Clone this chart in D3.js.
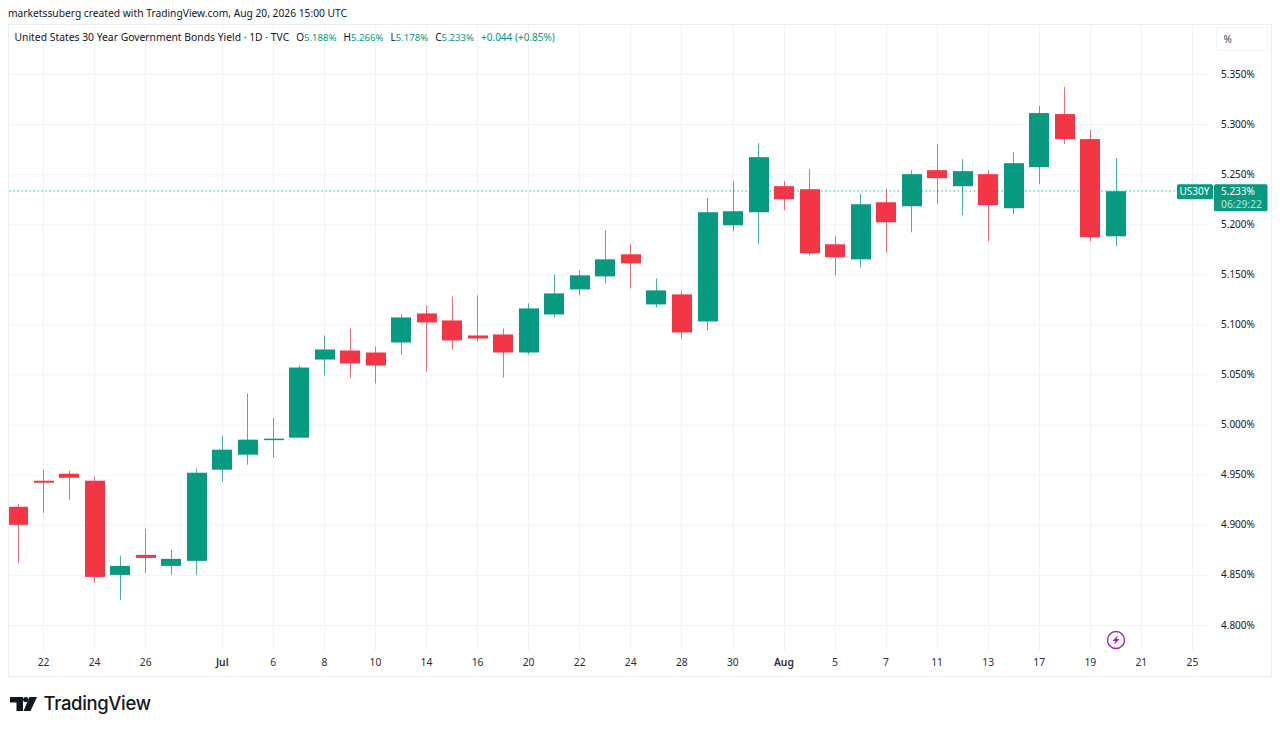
<!DOCTYPE html>
<html>
<head>
<meta charset="utf-8">
<script src="https://cdn.jsdelivr.net/npm/d3@7"></script>
<style>
html,body{margin:0;padding:0;background:#fff;overflow:hidden}
svg{display:block}
text{font-family:"Noto Sans",Roboto,sans-serif;fill:#131722}
.grid line{stroke:#f1f3f7;stroke-width:1}
.grid path{display:none}
.axis path{display:none}
.axis text{font-size:10px;fill:#2a2e39}
</style>
</head>
<body>
<svg id="chart" width="1280" height="730"></svg>
<script>
const sessions=["Jun 19","Jun 22","Jun 23","Jun 24","Jun 25","Jun 26","Jun 29","Jun 30","Jul 1","Jul 2",
  "Jul 6","Jul 7","Jul 8","Jul 9","Jul 10","Jul 13","Jul 14","Jul 15","Jul 16","Jul 17",
  "Jul 20","Jul 21","Jul 22","Jul 23","Jul 24","Jul 27","Jul 28","Jul 29","Jul 30","Jul 31",
  "Aug 3","Aug 4","Aug 5","Aug 6","Aug 7","Aug 10","Aug 11","Aug 12","Aug 13","Aug 14",
  "Aug 17","Aug 18","Aug 19","Aug 20"];
const futureSessions=["Aug 21","Aug 24","Aug 25"];
const opens=[4.918,4.944,4.951,4.944,4.850,4.870,4.859,4.864,4.955,4.970,
  4.985,4.987,5.065,5.074,5.072,5.082,5.111,5.104,5.089,5.090,
  5.072,5.110,5.135,5.148,5.170,5.120,5.130,5.103,5.199,5.212,
  5.238,5.235,5.180,5.165,5.222,5.218,5.254,5.238,5.250,5.216,
  5.257,5.310,5.285,5.188];
const highs=[4.921,4.955,4.954,4.948,4.869,4.896,4.875,4.956,4.989,5.031,
  5.007,5.059,5.089,5.096,5.078,5.110,5.119,5.128,5.129,5.096,
  5.121,5.150,5.154,5.194,5.180,5.146,5.133,5.226,5.243,5.281,
  5.243,5.255,5.188,5.230,5.235,5.254,5.280,5.265,5.254,5.272,
  5.318,5.337,5.294,5.266];
const lows=[4.862,4.912,4.925,4.842,4.825,4.852,4.850,4.850,4.943,4.960,
  4.967,4.987,5.049,5.047,5.041,5.070,5.053,5.075,5.083,5.047,
  5.070,5.107,5.129,5.141,5.136,5.117,5.086,5.094,5.193,5.180,
  5.214,5.169,5.149,5.157,5.172,5.192,5.220,5.209,5.183,5.210,
  5.240,5.280,5.183,5.178];
const closes=[4.900,4.942,4.947,4.848,4.859,4.867,4.866,4.952,4.975,4.985,
  4.986,5.057,5.075,5.061,5.059,5.107,5.102,5.084,5.086,5.072,
  5.116,5.131,5.149,5.165,5.161,5.134,5.092,5.212,5.213,5.267,
  5.225,5.171,5.167,5.220,5.202,5.250,5.246,5.253,5.219,5.261,
  5.311,5.285,5.187,5.233];
const priceTicks=[5.35,5.30,5.25,5.20,5.15,5.10,5.05,5.00,4.95,4.90,4.85,4.80];
const timeTicks=["Jun 22","Jun 24","Jun 26","Jul 1","Jul 6","Jul 8","Jul 10","Jul 14","Jul 16","Jul 20","Jul 22","Jul 24",
  "Jul 28","Jul 30","Aug 3","Aug 5","Aug 7","Aug 11","Aug 13","Aug 17","Aug 19","Aug 21","Aug 25"];
const timeLabels=["22","24","26","Jul","6","8","10","14","16","20","22","24","28","30","Aug","5","7","11","13","17","19","21","25"];

const upColor="#089981",downColor="#f23645";
const pane={left:8.5,top:24.5,right:1271.5,bottom:676.5,plotRight:1210,gridBottom:651};

const candles=sessions.map((s,i)=>({session:s,o:opens[i],h:highs[i],l:lows[i],c:closes[i]}));
const last=candles[candles.length-1];

const svg=d3.select("#chart");

const x=d3.scalePoint().domain(sessions.concat(futureSessions)).range([18.2,1192.6]);
const y=d3.scaleLinear().domain([5.35,4.80]).range([74,625]);
const px=v=>Math.floor(v)+0.5;

svg.append("defs").append("clipPath").attr("id","plotClip")
  .append("rect")
  .attr("x",pane.left+0.5).attr("y",pane.top)
  .attr("width",pane.plotRight-pane.left).attr("height",pane.bottom-pane.top);

svg.append("rect")
  .attr("x",pane.left).attr("y",pane.top)
  .attr("width",pane.right-pane.left).attr("height",pane.bottom-pane.top)
  .attr("fill","#fff").attr("stroke","#eceef2");

// grid
const gridX=svg.append("g").attr("class","grid")
  .attr("transform",`translate(0,${pane.gridBottom})`)
  .call(d3.axisBottom(x).tickValues(timeTicks).tickSize(-(pane.gridBottom-pane.top)).tickFormat("").offset(0));
gridX.selectAll(".tick").attr("transform",d=>`translate(${px(x(d))},0)`);
svg.append("g").attr("class","grid")
  .attr("transform",`translate(${pane.plotRight},0)`)
  .call(d3.axisLeft(y).tickValues(priceTicks).tickSize(pane.plotRight-pane.left).tickFormat(""));

// last price line, two rows thick at low opacity so the dots keep their green
svg.append("line")
  .attr("x1",pane.left+1).attr("x2",1177)
  .attr("y1",Math.round(y(last.c))).attr("y2",Math.round(y(last.c)))
  .attr("stroke","#00b386").attr("stroke-opacity",0.45).attr("stroke-width",2).attr("stroke-dasharray","1.5 2.5");

// candles
const plot=svg.append("g").attr("clip-path","url(#plotClip)");
const bodyW=20;
plot.selectAll(".wick")
  .data(candles)
  .join("line")
  .attr("class","wick")
  .attr("x1",d=>px(x(d.session))).attr("x2",d=>px(x(d.session)))
  .attr("y1",d=>y(d.h)).attr("y2",d=>y(d.l))
  .attr("stroke",d=>d.c>=d.o?upColor:downColor)
  .attr("stroke-opacity",0.75);
plot.selectAll(".body")
  .data(candles)
  .join("rect")
  .attr("class","body")
  .attr("x",d=>Math.round(x(d.session))-bodyW/2)
  .attr("width",bodyW)
  .attr("y",d=>y(Math.max(d.o,d.c)))
  .attr("height",d=>Math.max(1.5,Math.abs(y(d.o)-y(d.c))))
  .attr("fill",d=>d.c>=d.o?upColor:downColor);

// axes
const priceAxis=svg.append("g").attr("class","axis")
  .attr("transform",`translate(${pane.plotRight},-0.2)`)
  .call(d3.axisRight(y).tickValues(priceTicks).tickSize(0).tickPadding(11).tickFormat(d=>d3.format(".3f")(d)+"%"));
priceAxis.selectAll("text").style("fill","#131722");

const timeAxis=svg.append("g").attr("class","axis")
  .attr("transform",`translate(-0.7,${pane.gridBottom})`)
  .call(d3.axisBottom(x).tickValues(timeTicks).tickSize(0).tickPadding(7.5).tickFormat(d=>timeLabels[timeTicks.indexOf(d)]));
timeAxis.selectAll("text")
  .style("font-size","10.3px")
  .attr("font-weight",d=>/^(Jul 1|Aug 3)$/.test(d)?600:400);

// header
svg.append("text").attr("x",8).attr("y",17).attr("font-size",10.25)
  .text("marketssuberg created with TradingView.com, Aug 20, 2026 15:00 UTC");

const legend=svg.append("text").attr("x",14.5).attr("y",41).attr("font-size",10.35);
legend.append("tspan").text("United States 30 Year Government Bonds Yield · 1D · TVC");
const ohlc=[["O",last.o],["H",last.h],["L",last.l],["C",last.c]];
ohlc.forEach(([k,v])=>{
  legend.append("tspan").attr("dx",7).attr("font-size",10).text(k);
  legend.append("tspan").attr("font-size",9.6).style("fill",upColor).text(d3.format(".3f")(v)+"%");
});
legend.append("tspan").attr("dx",7).attr("font-size",10).style("fill",upColor).text("+0.044 (+0.85%)");

// percent button
svg.append("rect").attr("x",1216.5).attr("y",27.5).attr("width",51).attr("height",23).attr("rx",2)
  .attr("fill","#fff").attr("stroke","#f0f3fa");
svg.append("text").attr("x",1223.5).attr("y",43).attr("font-size",10).style("fill","#434651").text("%");

// price tags
const tagY=y(last.c);
svg.append("rect").attr("x",1177).attr("y",tagY-7).attr("width",36).attr("height",15).attr("rx",1.5).attr("fill",upColor);
svg.append("text").attr("x",1194.5).attr("y",tagY+4).attr("text-anchor","middle").attr("font-size",10).style("fill","#fff").text("US30Y");
svg.append("rect").attr("x",1214).attr("y",tagY-7).attr("width",53.5).attr("height",27).attr("rx",1.5).attr("fill",upColor);
svg.append("text").attr("x",1221).attr("y",tagY+4).attr("font-size",10).style("fill","#fff").text(d3.format(".3f")(last.c)+"%");
svg.append("text").attr("x",1221).attr("y",tagY+17).attr("font-size",10.3).style("fill","#bfe6dd").text("06:29:22");

// lightning marker under the last candle
const marker=svg.append("g").attr("transform",`translate(${x(last.session)},640)`);
marker.append("circle").attr("r",8.5).attr("fill","#fff").attr("stroke","#9c27b0").attr("stroke-width",1.4);
marker.append("path").attr("d","M2.2,-5 L-3.6,0.9 L-0.6,0.9 L-2.2,5 L3.6,-0.9 L0.6,-0.9 Z").attr("fill","#9c27b0");

// logo
const logo=svg.append("g").attr("fill","#131722");
logo.append("path").attr("d","M10,697 H23 V711 H16.5 V702.5 H10 Z");
logo.append("circle").attr("cx",25.8).attr("cy",699.6).attr("r",2.7);
logo.append("path").attr("d","M29.5,697 H37 L30.5,711 H23.5 Z");
svg.append("text").attr("x",43.5).attr("y",710).attr("font-size",18.5).attr("font-weight",500)
  .style("font-family","Inter,'Noto Sans',sans-serif").style("letter-spacing","-0.35px").text("TradingView");
</script>
</body>
</html>
